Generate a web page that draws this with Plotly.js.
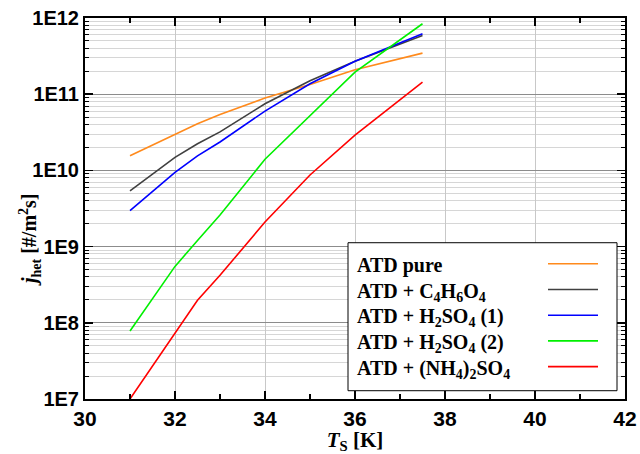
<!DOCTYPE html>
<html>
<head>
<meta charset="utf-8">
<script src="https://cdn.plot.ly/plotly-3.0.1.min.js"></script>
<style>html,body{margin:0;padding:0;background:#fff;}#chart{width:640px;height:454px;}</style>
</head>
<body>
<div id="chart"></div>
<script>
// ---- data ----
const temps = [31, 32, 32.5, 33, 34, 35, 36, 37.5];
const atdPure     = [1.56e10, 3.0e10, 4.1e10, 5.4e10, 8.9e10, 1.34e11, 2.1e11, 3.46e11];
const atdC4H6O4   = [5.4e9, 1.48e10, 2.24e10, 3.2e10, 7.5e10, 1.5e11, 2.7e11, 5.9e11];
const atdH2SO4_1  = [2.97e9, 9.4e9, 1.55e10, 2.36e10, 6.0e10, 1.37e11, 2.7e11, 6.2e11];
const atdH2SO4_2  = [7.8e7, 5.5e8, 1.2e9, 2.6e9, 1.4e10, 5.3e10, 1.95e11, 8.4e11];
const atdNH42SO4  = [1.0e7, 7.5e7, 1.98e8, 4.2e8, 2.1e9, 8.7e9, 2.9e10, 1.44e11];

const seriesNames = [
  'ATD pure',
  'ATD + C<sub>4</sub>H<sub>6</sub>O<sub>4</sub>',
  'ATD + H<sub>2</sub>SO<sub>4</sub> (1)',
  'ATD + H<sub>2</sub>SO<sub>4</sub> (2)',
  'ATD + (NH<sub>4</sub>)<sub>2</sub>SO<sub>4</sub>'
];
const seriesValues = [atdPure, atdC4H6O4, atdH2SO4_1, atdH2SO4_2, atdNH42SO4];
const seriesColors = ['#ff8a1c', '#404040', '#0000ff', '#00f000', '#ff0000'];

const yTickVals = [1e7, 1e8, 1e9, 1e10, 1e11, 1e12];
const yTickText = ['1E7', '1E8', '1E9', '1E10', '1E11', '1E12'];

// ---- geometry helpers (pixel -> paper) ----
const W = 640, H = 454;
const L = 85, R = 625, T = 17.5, B = 399.3;
const px = x => (x - L) / (R - L);
const py = y => (B - y) / (B - T);

const traces = seriesValues.map((vals, i) => ({
  x: temps, y: vals, type: 'scatter', mode: 'lines',
  line: {color: seriesColors[i], width: 1.6},
  name: seriesNames[i], showlegend: false, hoverinfo: 'skip'
}));

const serif = 'Liberation Serif, Times New Roman, serif';
const sans = 'Liberation Sans, Arial, sans-serif';

const shapes = [{
  type: 'rect', xref: 'paper', yref: 'paper', layer: 'above',
  x0: px(348), x1: px(617), y0: py(391), y1: py(242.7),
  line: {color: '#000', width: 1}, fillcolor: '#fff'
}];
const annotations = [];
const rowY = [263.7, 289.5, 315.3, 341.1, 366.9];
seriesNames.forEach((nm, i) => {
  shapes.push({
    type: 'line', xref: 'paper', yref: 'paper', layer: 'above',
    x0: px(548), x1: px(598), y0: py(rowY[i]), y1: py(rowY[i]),
    line: {color: seriesColors[i], width: 1.6}
  });
  annotations.push({
    xref: 'paper', yref: 'paper', x: px(355), y: py(rowY[i] - 11.8),
    xanchor: 'left', yanchor: 'top', showarrow: false,
    text: '<b>' + nm + '</b>',
    font: {family: serif, size: 20, color: '#000'}
  });
});
annotations.push({
  xref: 'paper', yref: 'paper', x: px(30), y: py(240),
  xanchor: 'center', yanchor: 'middle', showarrow: false, textangle: -90,
  text: '<b><i>j</i><sub>het</sub> [#/m<sup>2</sup>s]</b>',
  font: {family: serif, size: 20, color: '#000'}
});

const layout = {
  width: W, height: H,
  margin: {l: L, r: W - R, t: T, b: H - B, pad: 0},
  paper_bgcolor: '#fff', plot_bgcolor: '#fff',
  showlegend: false,
  xaxis: {
    range: [30, 42], tickmode: 'linear', tick0: 30, dtick: 2,
    ticks: 'inside', ticklen: 8, tickwidth: 1.5, tickcolor: '#000',
    showline: true, linewidth: 2, linecolor: '#000', mirror: 'ticks',
    showgrid: true, gridcolor: '#c8c8c8', gridwidth: 1, zeroline: false,
    tickfont: {family: sans, size: 21, weight: 'bold', color: '#000'},
    minor: {dtick: 1, ticks: 'inside', ticklen: 5, tickwidth: 1.2, tickcolor: '#000', showgrid: false},
    title: {text: '<b><i>T</i><sub>S</sub> [K]</b>', font: {family: serif, size: 21, color: '#000'}, standoff: 4}
  },
  yaxis: {
    type: 'log', range: [7, 12], tickmode: 'array', tickvals: yTickVals, ticktext: yTickText,
    ticks: 'inside', ticklen: 8, tickwidth: 1.5, tickcolor: '#000',
    showline: true, linewidth: 2, linecolor: '#000', mirror: 'ticks',
    showgrid: true, gridcolor: '#8c8c8c', gridwidth: 1, zeroline: false,
    tickfont: {family: sans, size: 20, weight: 'bold', color: '#000'},
    minor: {dtick: 'D1', ticks: 'inside', ticklen: 4, tickwidth: 1, tickcolor: '#000', showgrid: true, gridcolor: '#d6d6d6', gridwidth: 1}
  },
  shapes: shapes,
  annotations: annotations
};

Plotly.newPlot('chart', traces, layout, {staticPlot: true, displayModeBar: false});
</script>
</body>
</html>
